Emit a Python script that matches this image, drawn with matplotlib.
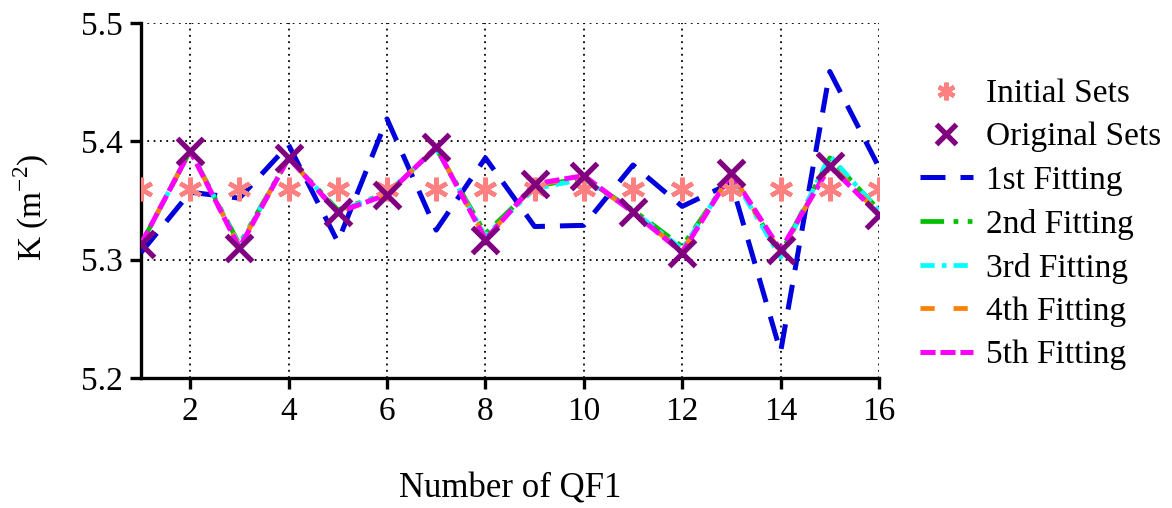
import numpy as np
import matplotlib
matplotlib.use("Agg")
import matplotlib.pyplot as plt

plt.rcParams['font.family'] = ['Liberation Serif', 'DejaVu Serif']
plt.rcParams['mathtext.fontset'] = 'custom'
plt.rcParams['mathtext.rm'] = 'Liberation Serif'

qf = np.arange(1, 17)
initial_sets = [5.36] * 16
original_sets = [5.313, 5.392, 5.310, 5.386, 5.340, 5.355, 5.395, 5.317,
                 5.364, 5.371, 5.340, 5.306, 5.373, 5.308, 5.379, 5.338]
fit1 = [5.306, 5.357, 5.352, 5.397, 5.315, 5.419, 5.325, 5.386,
        5.328, 5.329, 5.380, 5.345, 5.365, 5.222, 5.459, 5.378]
fit2 = [5.313, 5.392, 5.313, 5.386, 5.342, 5.356, 5.394, 5.322,
        5.362, 5.369, 5.342, 5.311, 5.372, 5.305, 5.386, 5.342]
fit3 = [5.313, 5.392, 5.312, 5.386, 5.341, 5.356, 5.394, 5.320,
        5.360, 5.368, 5.341, 5.309, 5.372, 5.302, 5.388, 5.341]
fit4 = [5.313, 5.392, 5.311, 5.386, 5.340, 5.355, 5.395, 5.318,
        5.363, 5.370, 5.340, 5.307, 5.373, 5.306, 5.381, 5.339]
fit5 = [5.313, 5.392, 5.310, 5.386, 5.340, 5.355, 5.395, 5.317,
        5.364, 5.371, 5.340, 5.306, 5.373, 5.308, 5.379, 5.338]

fig = plt.figure(figsize=(11.72, 5.08), dpi=100)
ax = fig.add_axes([141/1172, 1-378/508, (879-141)/1172, (378-23)/508])

ax.plot(qf, initial_sets, linestyle='none', marker=(6, 2, 0), markersize=17,
        markeredgewidth=3.2, color='#ff8080', label='Initial Sets', zorder=5)
ax.plot(qf, fit1, color='#0000dd', lw=3.6, dashes=(5, 3), label='1st Fitting', zorder=3)
ax.plot(qf, fit2, color='#00c000', lw=3.4, dashes=(5, 2, 1, 2, 1, 2), label='2nd Fitting', zorder=3)
ax.plot(qf, fit3, color='#00ffff', lw=3.4, dashes=(3, 1.5, 1, 1.5), label='3rd Fitting', zorder=3)
ax.plot(qf, fit4, color='#ff8000', lw=3.4, dashes=(3, 4), label='4th Fitting', zorder=3)
ax.plot(qf, fit5, color='#ff00ff', lw=3.6, dashes=(3, 1), label='5th Fitting', zorder=4)
ax.plot(qf, original_sets, linestyle='none', marker='x', markersize=19,
        markeredgewidth=3.8, color='#800080', label='Original Sets', zorder=6)

ax.set_xlim(1, 16)
ax.set_ylim(5.2, 5.5)
ax.set_xticks(np.arange(2, 17, 2))
ax.set_yticks([5.2, 5.3, 5.4, 5.5])
ax.set_yticklabels(['5.2', '5.3', '5.4', '5.5'])
ax.grid(True, linestyle=(0, (1, 2.5)), color='black', linewidth=1.3)
for s in ['top', 'right']:
    ax.spines[s].set_visible(False)
for s in ['left', 'bottom']:
    ax.spines[s].set_linewidth(2.4)
ax.tick_params(direction='out', length=8, width=2.4, labelsize=24, pad=5)

ax.set_xlabel('Number of QF1', fontsize=25)
ax.xaxis.set_label_coords(0.5, -0.313)
ax.xaxis.label.set_va('center')
ax.set_ylabel('K (m$^{\\mathregular{-2}}$)', fontsize=24)
ax.yaxis.set_label_coords(-0.149, 0.48)
ax.yaxis.label.set_va('center')

handles, labels = ax.get_legend_handles_labels()
order = ['Initial Sets', 'Original Sets', '1st Fitting', '2nd Fitting',
         '3rd Fitting', '4th Fitting', '5th Fitting']
hmap = dict(zip(labels, handles))
leg = fig.legend([hmap[k] for k in order], order, loc='upper left',
                 bbox_to_anchor=(903/1172, 1-62/508), frameon=False, fontsize=24,
                 handlelength=1.6, handletextpad=0.4, labelspacing=0.385,
                 borderpad=0, markerscale=0.75)

fig.savefig('out.png', dpi=100)
